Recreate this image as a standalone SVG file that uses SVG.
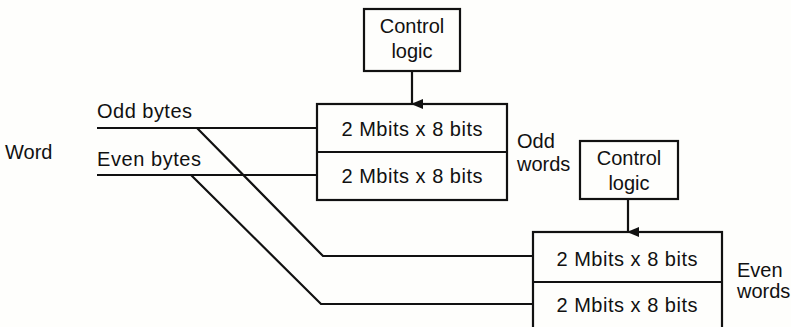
<svg xmlns="http://www.w3.org/2000/svg" width="791" height="327" viewBox="0 0 791 327">
<defs>
<marker id="ah" markerWidth="10" markerHeight="12" refX="5" refY="11" orient="auto" markerUnits="userSpaceOnUse" viewBox="0 0 10 12">
<path d="M0,0 L10,0 L5,12 Z" fill="#111"/>
</marker>
</defs>
<style>
text{font-family:"Liberation Sans",Arial,sans-serif;font-size:20px;fill:#111}
.c{text-anchor:middle}
.box{fill:none;stroke:#111;stroke-width:2.2}
.ln{fill:none;stroke:#111;stroke-width:2.2}
</style>
<rect width="791" height="327" fill="#fefefc"/>
<text x="5" y="159">Word</text>
<g id="labels">
<text x="97" y="118" textLength="95">Odd bytes</text>
<text x="97" y="166" textLength="104">Even bytes</text>
<text x="517" y="148">Odd</text>
<text x="517" y="171">words</text>
<text x="737" y="277">Even</text>
<text x="737" y="298">words</text>
</g>
<g id="ctrl1">
<rect class="box" x="364" y="9" width="96" height="62"/>
<text class="c" x="412" y="33">Control</text>
<text class="c" x="412" y="58">logic</text>
</g>
<g id="mem-odd">
<rect class="box" x="317" y="104" width="190" height="96"/>
<line class="ln" x1="317" y1="152" x2="507" y2="152"/>
<text class="c" x="412" y="136" textLength="141">2 Mbits x 8 bits</text>
<text class="c" x="412" y="183" textLength="141">2 Mbits x 8 bits</text>
</g>
<g id="ctrl2">
<rect class="box" x="580" y="141" width="98" height="58"/>
<text class="c" x="629" y="165">Control</text>
<text class="c" x="629" y="190">logic</text>
</g>
<g id="mem-even">
<rect class="box" x="533" y="232" width="189" height="100"/>
<line class="ln" x1="533" y1="282" x2="722" y2="282"/>
<text class="c" x="627" y="266" textLength="141">2 Mbits x 8 bits</text>
<text class="c" x="627" y="312" textLength="141">2 Mbits x 8 bits</text>
</g>
<g id="connectors">
<line class="ln" x1="412" y1="71" x2="412" y2="104" marker-end="url(#ah)"/>
<line class="ln" x1="628" y1="199" x2="628" y2="232" marker-end="url(#ah)"/>
<line class="ln" x1="97" y1="128" x2="317" y2="128"/>
<line class="ln" x1="97" y1="175" x2="317" y2="175"/>
<polyline class="ln" points="197,128 323,256 533,256"/>
<polyline class="ln" points="191,175 321,304 533,304"/>
</g>
</svg>
